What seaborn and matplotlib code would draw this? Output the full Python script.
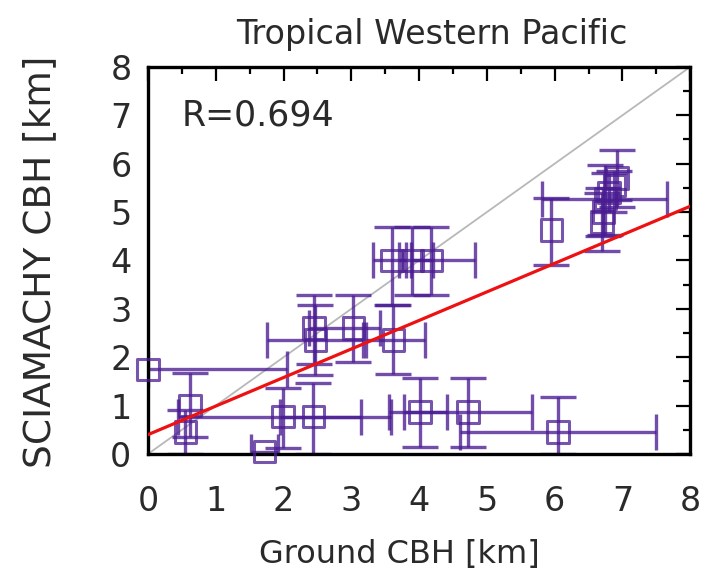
import matplotlib
matplotlib.use("Agg")
import matplotlib.pyplot as plt
import seaborn as sns
import numpy as np
from matplotlib.ticker import MultipleLocator

# ground CBH vs SCIAMACHY CBH [km], with error ranges (lower / upper)
ground = [0.00, 0.62, 0.55, 1.99, 2.44, 1.72, 2.45, 2.47, 3.03, 3.62, 3.60, 3.90,
          4.18, 4.01, 4.72, 6.05, 5.95, 6.70, 6.72, 6.75, 6.80, 6.88, 6.92]
scia = [1.75, 1.00, 0.45, 0.77, 0.77, 0.05, 2.60, 2.36, 2.60, 2.36, 4.00, 4.00,
        4.00, 0.87, 0.87, 0.45, 4.63, 4.80, 5.00, 5.28, 5.40, 5.55, 5.70]
ground_lo = [0.00, 0.00, 0.00, 1.55, 0.50, 0.20, 0.00, 0.72, 0.65, 0.40, 0.28, 0.20,
             0.30, 0.45, 0.95, 1.45, 0.00, 0.00, 0.00, 0.93, 0.00, 0.00, 0.00]
ground_hi = [2.05, 0.00, 0.00, 1.15, 1.15, 0.20, 0.00, 0.70, 0.40, 0.47, 0.20, 0.30,
             0.65, 0.40, 0.95, 1.45, 0.00, 0.00, 0.00, 0.91, 0.00, 0.00, 0.00]
scia_lo = [0.00, 0.65, 0.45, 0.65, 0.77, 0.00, 0.75, 0.73, 0.70, 0.70, 0.92, 0.72,
           0.72, 0.72, 0.72, 0.45, 0.73, 0.60, 0.50, 0.75, 0.40, 0.30, 0.60]
scia_hi = [0.00, 0.67, 0.45, 0.60, 0.70, 0.00, 0.68, 0.72, 0.68, 0.72, 0.69, 0.69,
           0.69, 0.70, 0.70, 0.73, 0.66, 0.60, 0.50, 0.69, 0.40, 0.30, 0.58]

# linear fit shown in the figure
fit_slope = 0.59
fit_intercept = 0.40
r_value = 0.694
axis_max = 8

purple = "#4a1c92"
text_col = "#2a2a2a"

sns.set_theme(style="white")
plt.rcParams["font.family"] = ["DejaVu Sans"]

fig = plt.figure(figsize=(7.05, 5.82), dpi=100)
ax = fig.add_axes([0.21, 0.22, 0.769, 0.665])

gx = np.array(ground)
sy = np.array(scia)
xl, xh = np.array(ground_lo), np.array(ground_hi)
yl, yh = np.array(scia_lo), np.array(scia_hi)

# 1:1 line and regression line
ax.plot([0, axis_max], [0, axis_max], color="#b8b8b8", lw=1.3, zorder=1)
xf = np.array([0, axis_max])
ax.plot(xf, fit_slope * xf + fit_intercept, color="#ee1111", lw=2.3, zorder=4)

# error bars, only where a range exists
mx = (xl + xh) > 0
ax.errorbar(gx[mx], sy[mx], xerr=[xl[mx], xh[mx]], fmt="none", ecolor=purple,
            elinewidth=2.4, capsize=13, capthick=2.4, alpha=0.78, zorder=2)
my = (yl + yh) > 0
ax.errorbar(gx[my], sy[my], yerr=[yl[my], yh[my]], fmt="none", ecolor=purple,
            elinewidth=2.4, capsize=13, capthick=2.4, alpha=0.78, zorder=2)

sns.scatterplot(x=gx, y=sy, ax=ax, marker="s", s=240, facecolor="none",
                edgecolor=purple, linewidth=2.2, alpha=0.75, zorder=3, clip_on=False)

ax.set_xlim(0, axis_max)
ax.set_ylim(0, axis_max)
ax.xaxis.set_major_locator(MultipleLocator(1))
ax.yaxis.set_major_locator(MultipleLocator(1))
ax.xaxis.set_minor_locator(MultipleLocator(0.5))
ax.yaxis.set_minor_locator(MultipleLocator(0.5))
ax.tick_params(which="both", direction="in", top=True, right=True, color="black")
ax.tick_params(which="major", length=10, width=1.6, labelsize=24, labelcolor=text_col)
ax.tick_params(which="minor", length=5, width=1.6)
ax.tick_params(axis="x", pad=22)
ax.tick_params(axis="y", pad=12)
for s in ax.spines.values():
    s.set_color("black")
    s.set_linewidth(2.4)

ax.text(0.5, 7.0, f"R={r_value:.3f}", fontsize=25, color=text_col, va="center")

fig.text(0.613, 0.94, "Tropical Western Pacific", ha="center", va="center",
         fontsize=24, color=text_col)
fig.text(0.567, 0.047, "Ground CBH [km]", ha="center", va="center",
         fontsize=23, color=text_col)
fig.text(0.057, 0.55, "SCIAMACHY CBH [km]", ha="center", va="center",
         rotation=90, fontsize=27, color=text_col)

fig.savefig("out.png", dpi=100)
